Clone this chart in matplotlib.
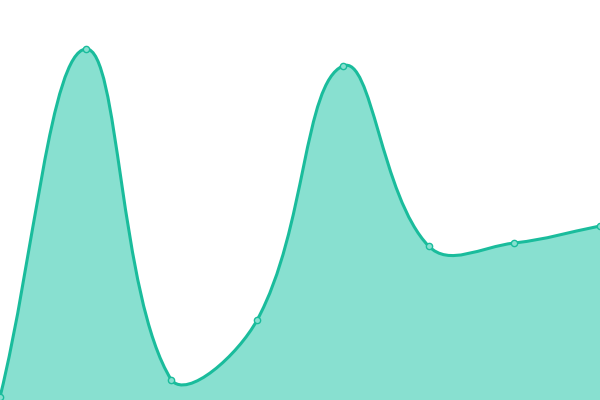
import matplotlib
matplotlib.use("Agg")
import matplotlib.pyplot as plt
import numpy as np
from matplotlib.path import Path
from matplotlib.patches import PathPatch

# values
labels = ["A", "B", "C", "D", "E", "F", "G", "H"]
values = [3, 351, 20, 80, 334, 154, 157, 174]

line_color = "#1abc9c"
fill_color = "#88e0d0"

fig = plt.figure(figsize=(6, 4), dpi=100)
ax = fig.add_axes([0, 0, 1, 1])
x = np.arange(len(values))
ax.set_xlim(0, len(values) - 1)
ax.set_ylim(0, 400)
ax.axis("off")

# smooth the line like chart.js (tension 0.4) in display space
pts = ax.transData.transform(np.column_stack([x, values]))
t = 0.4
n = len(pts)
cps = []
for i in range(n):
    p0 = pts[max(i - 1, 0)]
    p1 = pts[i]
    p2 = pts[min(i + 1, n - 1)]
    d01 = np.hypot(*(p1 - p0))
    d12 = np.hypot(*(p2 - p1))
    s = d01 + d12 if d01 + d12 > 0 else 1
    fa = t * d01 / s
    fb = t * d12 / s
    prev = p1 - fa * (p2 - p0)
    nxt = p1 + fb * (p2 - p0)
    # keep control points inside the chart area
    prev[1] = np.clip(prev[1], 0, 400)
    nxt[1] = np.clip(nxt[1], 0, 400)
    cps.append((prev, nxt))

verts = [pts[0]]
codes = [Path.MOVETO]
for i in range(n - 1):
    verts += [cps[i][1], cps[i + 1][0], pts[i + 1]]
    codes += [Path.CURVE4] * 3
inv = ax.transData.inverted()
curve = inv.transform(np.array(verts))

fill_verts = list(curve) + [(x[-1], 0), (x[0], 0), tuple(curve[0])]
fill_codes = codes + [Path.LINETO, Path.LINETO, Path.CLOSEPOLY]
ax.add_patch(PathPatch(Path(fill_verts, fill_codes), facecolor=fill_color,
                       edgecolor="none"))
ax.add_patch(PathPatch(Path(curve, codes), facecolor="none",
                       edgecolor=line_color, linewidth=2.2))
ax.plot(x, values, "o", markersize=4.5, markerfacecolor=fill_color,
        markeredgecolor=line_color, markeredgewidth=1)

fig.savefig("out.png", dpi=100)
